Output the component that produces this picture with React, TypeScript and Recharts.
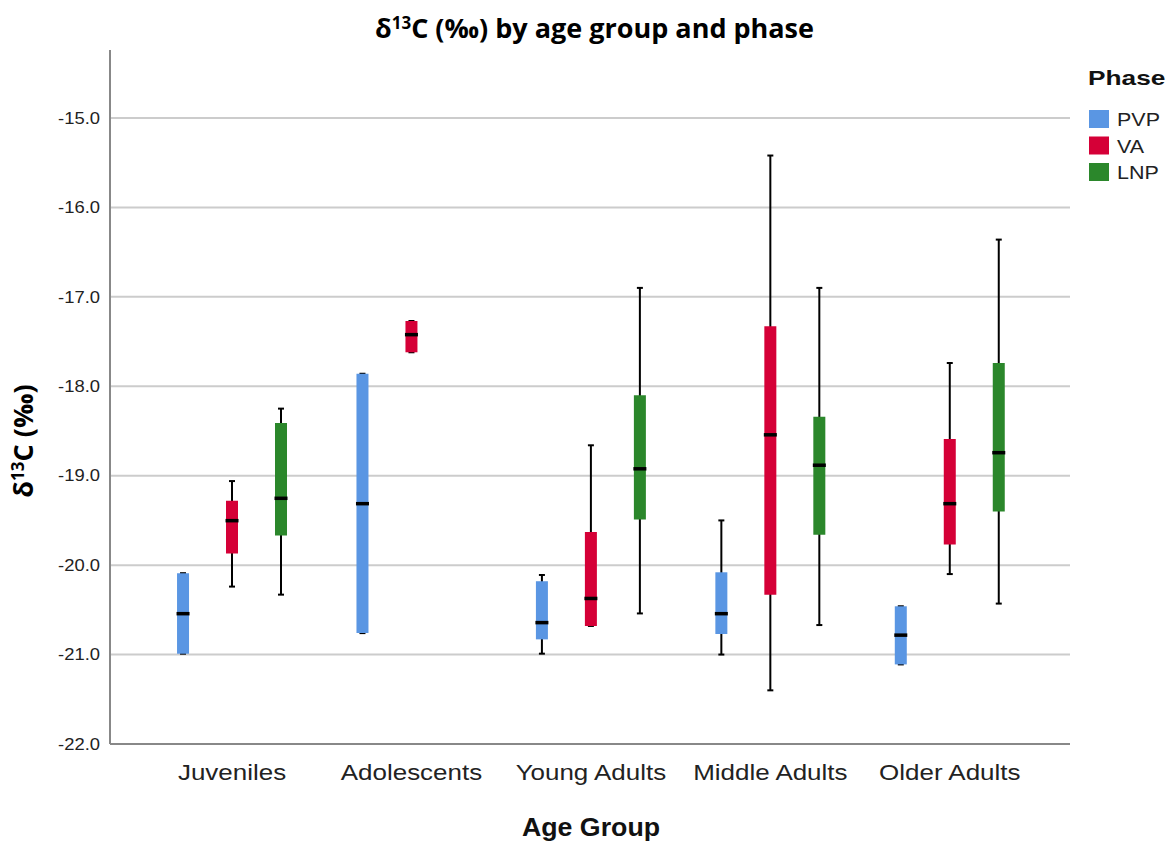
import React from 'react'
import {
  ScatterChart, Scatter, ErrorBar, XAxis, YAxis, ReferenceLine,
} from 'recharts'

const groups = ['Juveniles', 'Adolescents', 'Young Adults', 'Middle Adults', 'Older Adults']
const phases = ['PVP', 'VA', 'LNP']
const phaseColors = ['#5a96e3', '#d50037', '#2b872b']
const yTicks = [-22, -21, -20, -19, -18, -17, -16, -15]

// five-number summaries per age group: [min, q1, median, q3, max]
const pvpStats = [
  [-20.99, -20.99, -20.54, -20.09, -20.09],
  [-20.76, -20.76, -19.31, -17.86, -17.86],
  [-20.99, -20.83, -20.64, -20.18, -20.11],
  [-21.0, -20.77, -20.54, -20.08, -19.5],
  [-21.11, -21.11, -20.78, -20.46, -20.46],
]
const vaStats = [
  [-20.24, -19.87, -19.5, -19.28, -19.06],
  [-17.62, -17.62, -17.42, -17.27, -17.27],
  [-20.68, -20.68, -20.37, -19.63, -18.66],
  [-21.4, -20.33, -18.54, -17.33, -15.42],
  [-20.1, -19.77, -19.31, -18.59, -17.74],
]
const lnpStats = [
  [-20.33, -19.67, -19.25, -18.41, -18.25],
  null,
  [-20.54, -19.49, -18.92, -18.1, -16.9],
  [-20.67, -19.66, -18.88, -18.34, -16.9],
  [-20.43, -19.4, -18.74, -17.74, -16.36],
]

const allStats = [pvpStats, vaStats, lnpStats]
const phaseOffset = [-0.273, 0, 0.273]

const toRows = (stats: (number[] | null)[], offset: number) =>
  stats.flatMap((s, i) => {
    if (!s) return []
    const [min, q1, med, q3, max] = s
    return [{ x: i + offset, median: med, box: [med - q1, q3 - med], whisker: [med - min, max - med] }]
  })

const sans = 'Liberation Sans, Arial, sans-serif'

const YTick = ({ x, y, payload }: any) => (
  <g transform={`translate(${x},${y})`}>
    <text transform="scale(1.15,1)" textAnchor="end" dy="0.36em" fontSize={16} fill="#222" fontFamily={sans}>
      {payload.value.toFixed(1)}
    </text>
  </g>
)

const XTick = ({ x, y, payload }: any) => (
  <g transform={`translate(${x},${y + 36})`}>
    <text transform="scale(1.18,1)" textAnchor="middle" fontSize={22} fill="#222" fontFamily={sans}>
      {groups[payload.value]}
    </text>
  </g>
)

const MedianMark = ({ cx, cy }: any) => (
  <rect x={cx - 6.5} y={cy - 1.5} width={13} height={3.5} fill="#000" />
)

export default function App() {
  return (
    <div style={{ position: 'absolute', left: 0, top: 0, width: 1169, height: 842, background: '#fff' }}>
      <ScatterChart width={1169} height={842} margin={{ top: 50, right: 99, bottom: 0, left: 0 }}>
        <XAxis
          type="number"
          dataKey="x"
          domain={[-0.68, 4.67]}
          ticks={[0, 1, 2, 3, 4]}
          allowDataOverflow
          height={98}
          tickSize={0}
          tickMargin={0}
          tickLine={false}
          axisLine={{ stroke: '#888', strokeWidth: 2 }}
          tick={<XTick />}
        />
        <YAxis
          type="number"
          dataKey="median"
          domain={[-22, -14.24]}
          ticks={yTicks}
          allowDataOverflow
          width={110}
          tickSize={0}
          tickMargin={10}
          tickLine={false}
          axisLine={{ stroke: '#888', strokeWidth: 2 }}
          tick={<YTick />}
        />
        {/* horizontal gridlines at each tick above the baseline */}
        {yTicks.slice(1).map((v) => (
          <ReferenceLine key={v} y={v} stroke="#cccccc" strokeWidth={2} />
        ))}
        {allStats.map((stats, p) => (
          <Scatter
            key={phases[p]}
            name={phases[p]}
            data={toRows(stats, phaseOffset[p])}
            fill={phaseColors[p]}
            shape={<MedianMark />}
            isAnimationActive={false}
          >
            <ErrorBar dataKey="whisker" direction="y" width={3} stroke="#000" strokeWidth={2} isAnimationActive={false} />
            <ErrorBar dataKey="box" direction="y" width={0} stroke={phaseColors[p]} strokeWidth={12} isAnimationActive={false} />
          </Scatter>
        ))}
      </ScatterChart>

      {/* title, axis titles and legend */}
      <svg width={1169} height={842} style={{ position: 'absolute', left: 0, top: 0, pointerEvents: 'none' }}>
        <text x={594.5} y={38} textAnchor="middle" fontFamily="Open Sans, sans-serif" fontWeight={700} fontSize={27} fill="#000">
          δ<tspan fontSize={17} dy={-9}>13</tspan><tspan dy={9}>C (‰) by age group and phase</tspan>
        </text>
        <text transform="translate(33,441) rotate(-90)" textAnchor="middle" fontFamily="Open Sans, sans-serif" fontWeight={700} fontSize={27} fill="#000">
          δ<tspan fontSize={17} dy={-9}>13</tspan><tspan dy={9}>C (‰)</tspan>
        </text>
        <g transform="translate(591,836)">
          <text transform="scale(1.07,1)" textAnchor="middle" fontFamily={sans} fontWeight={700} fontSize={25} fill="#111">
            Age Group
          </text>
        </g>
        <g transform="translate(1088,85)">
          <text transform="scale(1.25,1)" fontFamily={sans} fontWeight={700} fontSize={21} fill="#111">Phase</text>
        </g>
        {phases.map((name, i) => (
          <g key={name} transform={`translate(1089,${119 + i * 26.5})`}>
            <rect x={0} y={-9} width={20} height={18} fill={phaseColors[i]} />
            <text transform="translate(28,7) scale(1.13,1)" fontFamily={sans} fontSize={19} fill="#222">{name}</text>
          </g>
        ))}
      </svg>
    </div>
  )
}
